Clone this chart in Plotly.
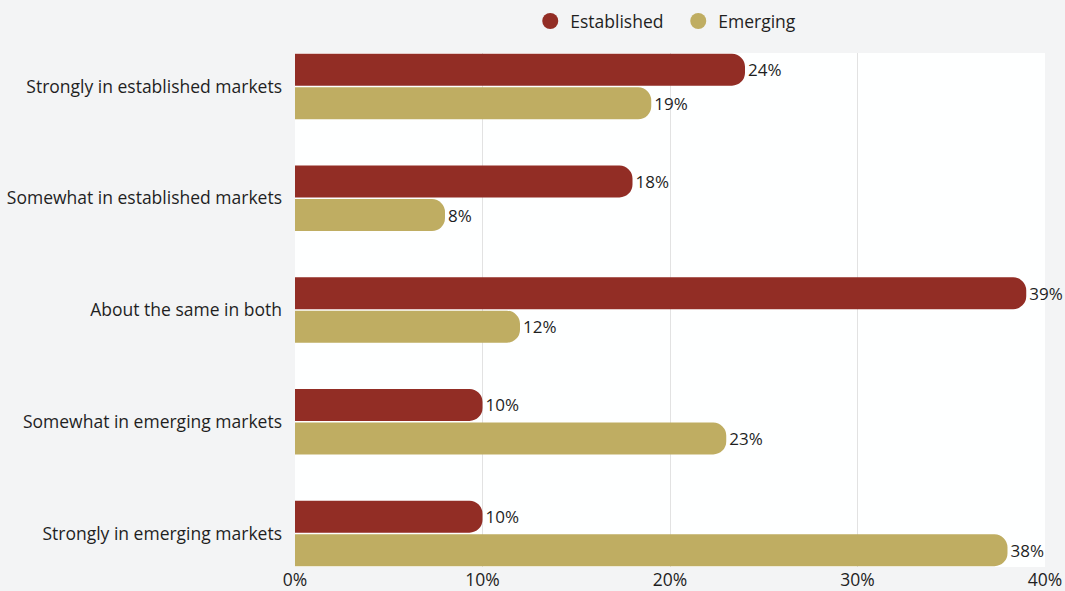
import plotly.graph_objects as go

# Survey responses: where growth is expected, by market type (percent)
categories = [
    "Strongly in established markets",
    "Somewhat in established markets",
    "About the same in both",
    "Somewhat in emerging markets",
    "Strongly in emerging markets",
]
established = [24, 18, 39, 10, 10]
emerging = [19, 8, 12, 23, 38]
x_ticks = [0, 10, 20, 30, 40]

RED = "#922d25"
GOLD = "#bfad62"
FONT = "Open Sans"
FS = 17.5
TEXT = "#1f1f1f"

fig = go.Figure()

for name, vals, color in [("Established", established, RED), ("Emerging", emerging, GOLD)]:
    fig.add_trace(go.Bar(
        y=categories, x=vals, orientation="h", name=name,
        marker=dict(color=color, cornerradius=13, line=dict(width=0)),
        text=[f"{v}%" for v in vals], textposition="outside",
        textfont=dict(family=FONT, size=FS - 0.5, color=TEXT),
        cliponaxis=False, showlegend=False,
    ))
    # circular legend swatch
    fig.add_trace(go.Scatter(
        x=[None], y=[None], mode="markers", name=name,
        marker=dict(symbol="circle", size=17, color=color),
        showlegend=True,
    ))

# soft diagonal light bands in the background
bands = [
    "M 0 0.55 L 0.28 1 L 0.42 1 L 0 0.3 Z",
    "M 0 0.05 L 0.18 0.42 L 0.05 0.62 L 0 0.5 Z",
    "M 0.1 0 L 0.3 0.35 L 0.45 0 Z",
]
shapes = [dict(type="path", path=p, xref="paper", yref="paper", fillcolor="rgba(255,255,255,0.45)",
               line=dict(width=0), layer="below") for p in bands]

fig.update_layout(
    width=1065, height=591,
    margin=dict(l=295, r=20, t=53, b=24, autoexpand=False),
    paper_bgcolor="#f3f4f5",
    plot_bgcolor="rgba(255,255,255,0.92)",
    barmode="group", bargap=0.4, bargroupgap=0.05,
    font=dict(family=FONT, size=FS, color=TEXT),
    shapes=shapes,
    legend=dict(orientation="h", x=0.511, xanchor="center", y=1.062, yanchor="middle",
                font=dict(family=FONT, size=FS, color=TEXT), bgcolor="rgba(0,0,0,0)",
                itemwidth=30, entrywidth=103, traceorder="normal"),
    xaxis=dict(range=[0, 40], tickvals=x_ticks, ticktext=[f"{t}%" for t in x_ticks],
               showgrid=True, gridcolor="#e2e2e2", gridwidth=1, zeroline=False,
               showline=False, ticks="", tickfont=dict(family=FONT, size=FS, color=TEXT),
               fixedrange=True),
    yaxis=dict(categoryorder="array", categoryarray=categories, range=[4.30, -0.30],
               showgrid=False, zeroline=False, showline=False, ticks="",
               ticklabelstandoff=12, tickfont=dict(family=FONT, size=FS, color=TEXT),
               fixedrange=True),
)

fig.write_html("out.html")
